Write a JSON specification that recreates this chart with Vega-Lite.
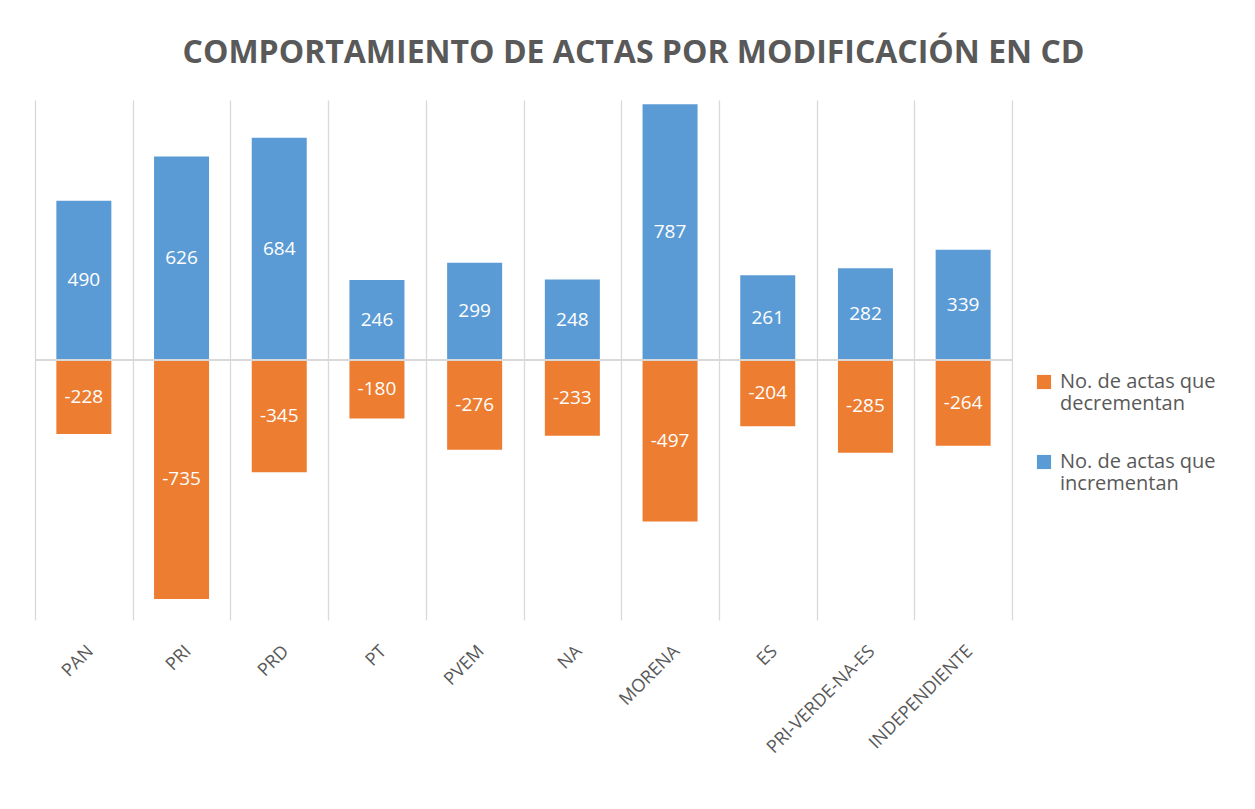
{
  "$schema": "https://vega.github.io/schema/vega-lite/v6.json",
  "width": 977,
  "height": 520,
  "autosize": "none",
  "padding": {"left": 35, "top": 100, "right": 243, "bottom": 189},
  "background": "white",
  "title": {
    "text": "COMPORTAMIENTO DE ACTAS POR MODIFICACIÓN EN CD",
    "font": "Open Sans",
    "fontSize": 32,
    "fontWeight": "bold",
    "color": "#595959",
    "anchor": "middle",
    "dx": 110,
    "offset": 30
  },
  "data": {
    "values": [
      {"partido": "PAN", "serie": "No. de actas que incrementan", "valor": 490},
      {"partido": "PAN", "serie": "No. de actas que decrementan", "valor": -228},
      {"partido": "PRI", "serie": "No. de actas que incrementan", "valor": 626},
      {"partido": "PRI", "serie": "No. de actas que decrementan", "valor": -735},
      {"partido": "PRD", "serie": "No. de actas que incrementan", "valor": 684},
      {"partido": "PRD", "serie": "No. de actas que decrementan", "valor": -345},
      {"partido": "PT", "serie": "No. de actas que incrementan", "valor": 246},
      {"partido": "PT", "serie": "No. de actas que decrementan", "valor": -180},
      {"partido": "PVEM", "serie": "No. de actas que incrementan", "valor": 299},
      {"partido": "PVEM", "serie": "No. de actas que decrementan", "valor": -276},
      {"partido": "NA", "serie": "No. de actas que incrementan", "valor": 248},
      {"partido": "NA", "serie": "No. de actas que decrementan", "valor": -233},
      {"partido": "MORENA", "serie": "No. de actas que incrementan", "valor": 787},
      {"partido": "MORENA", "serie": "No. de actas que decrementan", "valor": -497},
      {"partido": "ES", "serie": "No. de actas que incrementan", "valor": 261},
      {"partido": "ES", "serie": "No. de actas que decrementan", "valor": -204},
      {"partido": "PRI-VERDE-NA-ES", "serie": "No. de actas que incrementan", "valor": 282},
      {"partido": "PRI-VERDE-NA-ES", "serie": "No. de actas que decrementan", "valor": -285},
      {"partido": "INDEPENDIENTE", "serie": "No. de actas que incrementan", "valor": 339},
      {"partido": "INDEPENDIENTE", "serie": "No. de actas que decrementan", "valor": -264}
    ]
  },
  "layer": [
    {
      "mark": {"type": "bar", "width": {"band": 0.563}},
      "encoding": {
        "x": {
          "field": "partido",
          "type": "nominal",
          "sort": null,
          "title": null,
          "scale": {"paddingInner": 0, "paddingOuter": 0},
          "axis": {
            "domain": false,
            "ticks": false,
            "grid": true,
            "tickBand": "extent",
            "gridColor": "#D9D9D9",
            "gridWidth": 1.3,
            "labelAngle": -45,
            "labelFont": "Open Sans",
            "labelFontSize": 18,
            "labelColor": "#595959",
            "labelPadding": 22,
            "labelLimit": 300
          }
        },
        "y": {
          "field": "valor",
          "type": "quantitative",
          "stack": "zero",
          "scale": {"domain": [-800, 800], "nice": false},
          "axis": null
        },
        "color": {
          "field": "serie",
          "type": "nominal",
          "scale": {
            "domain": ["No. de actas que decrementan", "No. de actas que incrementan"],
            "range": ["#ED7D31", "#5B9BD5"]
          },
          "legend": {
            "title": null,
            "orient": "none",
            "legendX": 999,
            "legendY": 272,
            "symbolType": "square",
            "symbolSize": 200,
            "symbolOpacity": 1,
            "labelFont": "Open Sans",
            "labelFontSize": 20,
            "labelColor": "#595959",
            "labelLimit": 300,
            "labelOffset": 6,
            "rowPadding": 38,
            "labelExpr": "datum.label == 'No. de actas que decrementan' ? ['No. de actas que', 'decrementan'] : ['No. de actas que', 'incrementan']"
          }
        }
      }
    },
    {
      "mark": {"type": "rule", "color": "#D9D9D9", "strokeWidth": 1.3},
      "encoding": {"y": {"datum": 0, "type": "quantitative"}}
    },
    {
      "mark": {"type": "text", "color": "white", "font": "Open Sans", "fontSize": 19},
      "encoding": {
        "x": {"field": "partido", "type": "nominal", "sort": null},
        "y": {"field": "valor", "type": "quantitative", "stack": "zero", "bandPosition": 0.5},
        "detail": {"field": "serie"},
        "text": {"field": "valor", "type": "nominal"}
      }
    }
  ],
  "config": {"view": {"stroke": null}}
}
